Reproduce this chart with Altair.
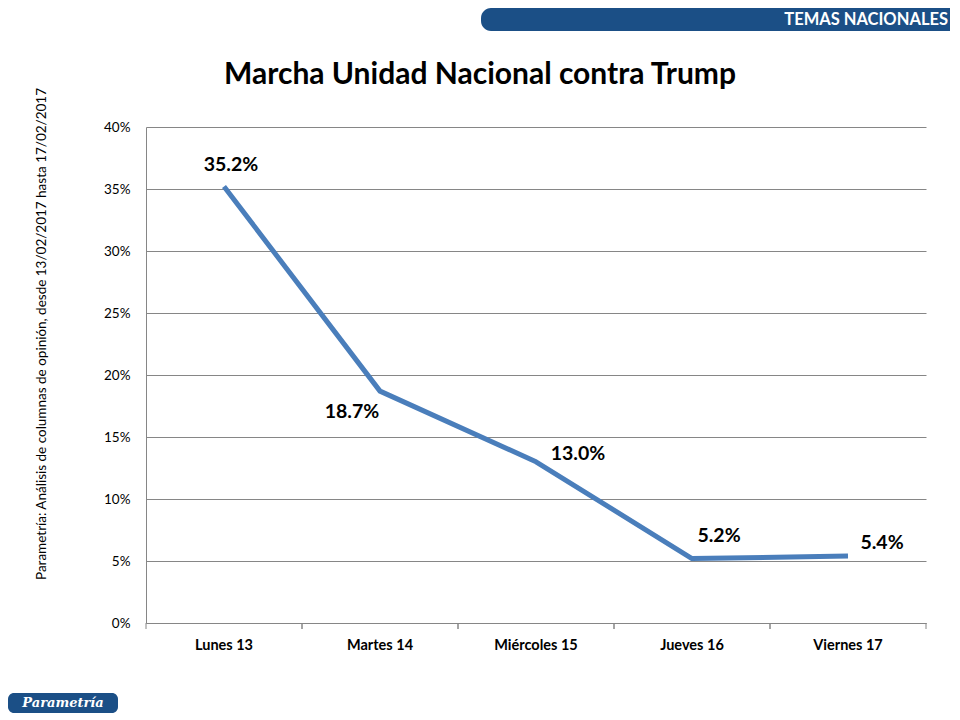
import altair as alt
import pandas as pd

days = ["Lunes 13", "Martes 14", "Miércoles 15", "Jueves 16", "Viernes 17"]
values = [35.2, 18.7, 13.0, 5.2, 5.4]
y_ticks = [0, 5, 10, 15, 20, 25, 30, 35, 40]
title_text = "Marcha Unidad Nacional contra Trump"
source_text = "Parametría: Análisis de columnas de opinión, desde 13/02/2017 hasta 17/02/2017"
banner_text = "TEMAS NACIONALES"
logo_text = "Parametría"

df = pd.DataFrame({"dia": days, "pct": [v / 100 for v in values]})

W, H = 780, 496
FONT = "Lato"
GRAY = "#868686"

x_enc = alt.X(
    "dia:N", sort=days, title=None,
    scale=alt.Scale(type="band", paddingInner=0, paddingOuter=0),
    axis=alt.Axis(title=None, labelAngle=0, labelFont=FONT, labelFontWeight="bold",
                  labelFontSize=14.5, labelColor="#000000", labelPadding=15,
                  ticks=False, domainColor=GRAY, grid=False),
)
y_enc = alt.Y(
    "pct:Q", title=None,
    scale=alt.Scale(domain=[0, 0.4], nice=False, zero=True),
    axis=alt.Axis(title=None, format=".0%", values=[t / 100 for t in y_ticks],
                  ticks=False, labelPadding=16, labelFont=FONT, labelFontSize=13.5,
                  labelColor="#000000", grid=True, gridColor=GRAY, domainColor=GRAY),
)

line = alt.Chart(df).mark_line(color="#4a7ebb", strokeWidth=5, strokeJoin="round").encode(
    x=x_enc, y=y_enc
)

tick_style = dict(color=GRAY, strokeWidth=1)
ticks_left = alt.Chart(df).mark_rule(**tick_style).encode(
    x=alt.X("dia:N", sort=days, bandPosition=0, title=None), y=alt.value(H), y2=alt.value(H + 6)
)
ticks_right = alt.Chart(df).mark_rule(**tick_style).encode(
    x=alt.X("dia:N", sort=days, bandPosition=1, title=None), y=alt.value(H), y2=alt.value(H + 6)
)

offsets = [(7, -22), (-28, 21), (42, -8), (27, -23), (34, -13)]
labels = []
for d, (dx, dy) in zip(days, offsets):
    labels.append(
        alt.Chart(df).transform_filter(alt.datum.dia == d)
        .mark_text(dx=dx, dy=dy, font=FONT, fontSize=19.5, fontWeight="bold", color="#000000")
        .encode(x=x_enc, y=y_enc, text=alt.Text("pct:Q", format=".1%"))
    )

title = alt.Chart(pd.DataFrame({"t": [title_text]})).mark_text(
    font=FONT, fontSize=30, fontWeight="bold", color="#000000", align="center", baseline="middle"
).encode(x=alt.value(334), y=alt.value(-52), text="t:N")

source = alt.Chart(pd.DataFrame({"t": [source_text]})).mark_text(
    font=FONT, fontSize=13.5, color="#000000", angle=270, align="center", baseline="middle"
).encode(x=alt.value(-104), y=alt.value(207), text="t:N")

banner = alt.Chart(pd.DataFrame({"t": [banner_text]})).mark_rect(
    color="#1b4f86", cornerRadius=10
).encode(x=alt.value(335), x2=alt.value(816), y=alt.value(-119), y2=alt.value(-96))

banner_txt = alt.Chart(pd.DataFrame({"t": [banner_text]})).mark_text(
    font=FONT, fontSize=16.5, fontWeight="bold", color="#ffffff", align="right", baseline="middle"
).encode(x=alt.value(802), y=alt.value(-107), text="t:N")

logo = alt.Chart(pd.DataFrame({"t": [logo_text]})).mark_rect(
    color="#1b4f86", cornerRadius=6
).encode(x=alt.value(-138), x2=alt.value(-28), y=alt.value(566), y2=alt.value(586))

logo_txt = alt.Chart(pd.DataFrame({"t": [logo_text]})).mark_text(
    font="DejaVu Serif", fontSize=13, fontWeight="bold", fontStyle="italic",
    color="#ffffff", align="center", baseline="middle"
).encode(x=alt.value(-83), y=alt.value(576), text="t:N")

chart = alt.layer(
    banner, banner_txt, logo, logo_txt, title, source,
    line, ticks_left, ticks_right, *labels
).properties(
    width=W, height=H,
    autosize=alt.AutoSizeParams(type="none"),
    padding={"left": 138, "top": 119, "right": 24, "bottom": 90},
    background="#ffffff",
).configure_view(stroke=None)

chart.save("out.html", embed_options={"renderer": "svg", "actions": False})
